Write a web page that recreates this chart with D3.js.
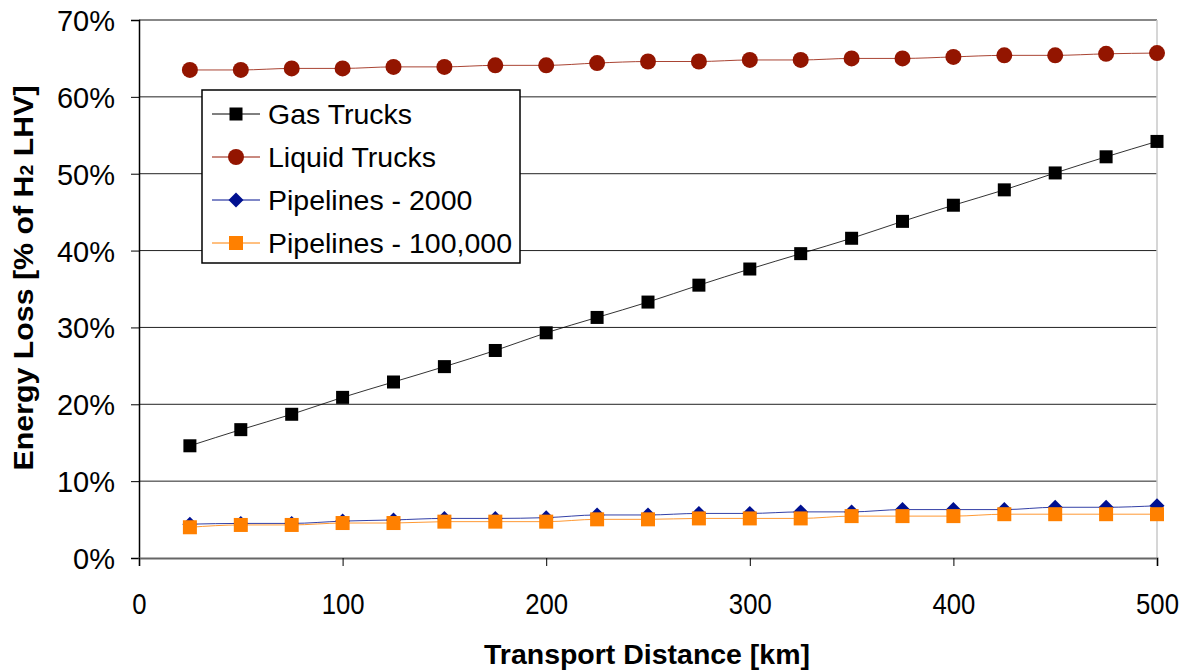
<!DOCTYPE html>
<html>
<head>
<meta charset="utf-8">
<script src="https://cdn.jsdelivr.net/npm/d3@7"></script>
<style>
  html, body { margin: 0; padding: 0; background: #fff; }
  svg { display: block; font-family: "Liberation Sans", Arial, sans-serif; }
</style>
</head>
<body>
<svg id="chart" width="1187" height="670"></svg>
<script>
const distances = [25, 50, 75, 100, 125, 150, 175, 200, 225, 250, 275, 300, 325, 350, 375, 400, 425, 450, 475, 500];
const gasTrucks = [14.6, 16.7, 18.7, 20.9, 22.9, 24.9, 27.0, 29.3, 31.3, 33.3, 35.5, 37.6, 39.6, 41.6, 43.8, 45.9, 47.9, 50.1, 52.2, 54.2];
const liquidTrucks = [63.5, 63.5, 63.7, 63.7, 63.9, 63.9, 64.1, 64.1, 64.4, 64.6, 64.6, 64.8, 64.8, 65.0, 65.0, 65.2, 65.4, 65.4, 65.6, 65.7];
const pipelines2000 = [4.4, 4.5, 4.5, 4.8, 4.95, 5.15, 5.15, 5.25, 5.6, 5.6, 5.8, 5.8, 6.0, 6.0, 6.3, 6.3, 6.3, 6.6, 6.6, 6.8];
const pipelines100k = [4.0, 4.3, 4.3, 4.55, 4.55, 4.73, 4.73, 4.73, 5.03, 5.03, 5.15, 5.15, 5.15, 5.45, 5.45, 5.45, 5.7, 5.7, 5.7, 5.7];
const xTicks = [0, 100, 200, 300, 400, 500];
const yTicks = [0, 10, 20, 30, 40, 50, 60, 70];
const seriesNames = ["Gas Trucks", "Liquid Trucks", "Pipelines - 2000", "Pipelines - 100,000"];

const series = [
  { name: seriesNames[0], values: gasTrucks, color: "#000000", marker: "square", size: 13 },
  { name: seriesNames[1], values: liquidTrucks, color: "#931500", marker: "circle", size: 16 },
  { name: seriesNames[2], values: pipelines2000, color: "#001090", marker: "diamond", size: 13 },
  { name: seriesNames[3], values: pipelines100k, color: "#FF8000", marker: "square", size: 14 }
];

const svg = d3.select("#chart");
const L = 139, R = 1157, T = 20, B = 558;
const x = d3.scaleLinear().domain([0, 500]).range([L, R]);
const y = d3.scaleLinear().domain([0, 70]).range([B, T]);

// gridlines
svg.append("g").selectAll("line").data(yTicks.filter(d => d > 0 && d < 70)).join("line")
  .attr("x1", L).attr("x2", R).attr("y1", d => y(d)).attr("y2", d => y(d))
  .attr("stroke", "#222").attr("stroke-width", 1);

// top & right border
svg.append("line").attr("x1", L).attr("x2", R).attr("y1", y(70)).attr("y2", y(70))
  .attr("stroke", "#888").attr("stroke-width", 2);
svg.append("line").attr("x1", R).attr("x2", R).attr("y1", T).attr("y2", B)
  .attr("stroke", "#c8c8c8").attr("stroke-width", 1.5);

// axes
const yAxis = d3.axisLeft(y).tickValues(yTicks).tickFormat(d => d + "%").tickSize(8).tickPadding(16);
const gy = svg.append("g").attr("transform", `translate(${L},0)`).call(yAxis);
gy.select(".domain").attr("stroke", "#000").attr("stroke-width", 1.5);
gy.selectAll(".tick line").attr("stroke", "#000");
gy.selectAll("text").attr("font-size", 29).attr("fill", "#000").attr("dy", "0.36em")
  .attr("font-family", "Liberation Sans, Arial, sans-serif");

const xAxis = d3.axisBottom(x).tickValues(xTicks).tickFormat(d3.format("d")).tickSize(8).tickPadding(27);
const gx = svg.append("g").attr("transform", `translate(0,${B})`).call(xAxis);
gx.select(".domain").attr("stroke", "#666").attr("stroke-width", 2);
gx.selectAll(".tick line").attr("stroke", "#000");
gx.selectAll("text").attr("font-size", 30).attr("fill", "#000")
  .attr("font-family", "Liberation Sans, Arial, sans-serif")
  .attr("textLength", d => String(d).length * 14.3).attr("lengthAdjust", "spacingAndGlyphs");

// markers
function drawMarker(g, type, cx, cy, size, color) {
  if (type === "square") {
    g.append("rect").attr("x", cx - size / 2).attr("y", cy - size / 2)
      .attr("width", size).attr("height", size).attr("fill", color);
  } else if (type === "circle") {
    g.append("circle").attr("cx", cx).attr("cy", cy).attr("r", size / 2).attr("fill", color);
  } else if (type === "diamond") {
    const h = size / 2 + 1;
    g.append("path").attr("d", `M${cx},${cy - h}L${cx + h},${cy}L${cx},${cy + h}L${cx - h},${cy}Z`).attr("fill", color);
  }
}

const line = d3.line().x((d, i) => x(distances[i])).y(d => y(d)).curve(d3.curveMonotoneX);

series.forEach(s => {
  const g = svg.append("g");
  g.append("path").attr("d", line(s.values)).attr("fill", "none")
    .attr("stroke", s.color).attr("stroke-width", 1).attr("stroke-opacity", 0.8);
  s.values.forEach((v, i) => drawMarker(g, s.marker, x(distances[i]), y(v), s.size, s.color));
});

// legend
const lg = svg.append("g");
lg.append("rect").attr("x", 202).attr("y", 90).attr("width", 318).attr("height", 173)
  .attr("fill", "#fff").attr("stroke", "#000").attr("stroke-width", 1.5);
series.forEach((s, i) => {
  const cy = 114 + i * 43;
  lg.append("line").attr("x1", 212).attr("x2", 260).attr("y1", cy).attr("y2", cy)
    .attr("stroke", s.color).attr("stroke-width", 1);
  drawMarker(lg, s.marker, 236, cy, s.size, s.color);
  lg.append("text").attr("x", 268).attr("y", cy + 10).attr("font-size", 28.5).attr("fill", "#000")
    .text(s.name);
});

// axis titles
svg.append("text").attr("x", 647).attr("y", 664).attr("text-anchor", "middle")
  .attr("font-size", 28).attr("font-weight", "bold").attr("fill", "#000")
  .attr("textLength", 326).attr("lengthAdjust", "spacingAndGlyphs")
  .text("Transport Distance [km]");

const yt = svg.append("text").attr("transform", "translate(33,278) rotate(-90)")
  .attr("text-anchor", "middle").attr("font-size", 28).attr("font-weight", "bold").attr("fill", "#000")
  .attr("textLength", 385).attr("lengthAdjust", "spacingAndGlyphs");
yt.append("tspan").text("Energy Loss [% of H");
yt.append("tspan").attr("font-size", 18).text("2");
yt.append("tspan").text(" LHV]");
</script>
</body>
</html>
